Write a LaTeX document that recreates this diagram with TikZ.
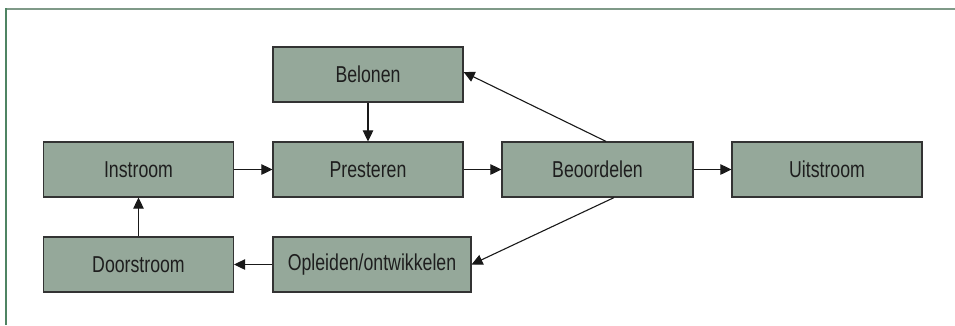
\documentclass[tikz,border=0pt]{standalone}
\usepackage{fontspec}
\setmainfont{Liberation Sans}[FakeStretch=0.77]
\usetikzlibrary{arrows.meta}
\definecolor{boxfill}{HTML}{95A89A}
\definecolor{boxline}{HTML}{333333}
\definecolor{frametop}{HTML}{7F9A88}
\definecolor{frameleft}{HTML}{4F8463}
\definecolor{txt}{HTML}{1E1E1E}
\tikzset{
  stagebox/.style={draw=boxline, fill=boxfill, line width=1.2pt,
    minimum width=190pt, minimum height=55pt, inner sep=0pt,
    text=txt, font=\fontsize{23}{25}\selectfont},
  flow/.style={draw=black!90, line width=1.1pt,
    -{Triangle[length=11pt,width=10.5pt]}},
}
\begin{document}
\begin{tikzpicture}[x=1pt, y=-1pt]
  \useasboundingbox (0,0) rectangle (955,325);
  % frame lines
  \draw[frametop, line width=2pt] (5,8.5) -- (955,8.5);
  \draw[frameleft, line width=1.5pt] (6,8) -- (6,325);
  % stages
  \node[stagebox] (bel) at (368,74.5) {Belonen};
  \node[stagebox] (pre) at (368,169.5) {Presteren};
  \node[stagebox] (ins) at (138.5,169.5) {Instroom};
  \node[stagebox, minimum width=191pt] (beo) at (597.5,169.5) {Beoordelen};
  \node[stagebox] (uit) at (827,169.5) {Uitstroom};
  \node[stagebox] (doo) at (138.5,264.5) {Doorstroom};
  \node[stagebox, minimum width=198pt] (opl) at (372,264.5) {Opleiden/ontwikkelen};
  % connectors
  \draw[flow] (ins) -- (pre);
  \draw[flow] (bel) -- (pre);
  \draw[flow] (pre) -- (beo);
  \draw[flow] (beo) -- (uit);
  \draw[flow] ([xshift=8.5pt]beo.north) -- ([yshift=2.5pt]bel.east);
  \draw[flow] ([xshift=16.5pt]beo.south) -- (opl.east);
  \draw[flow] (opl) -- (doo);
  \draw[flow] (doo) -- (ins);
\end{tikzpicture}
\end{document}
